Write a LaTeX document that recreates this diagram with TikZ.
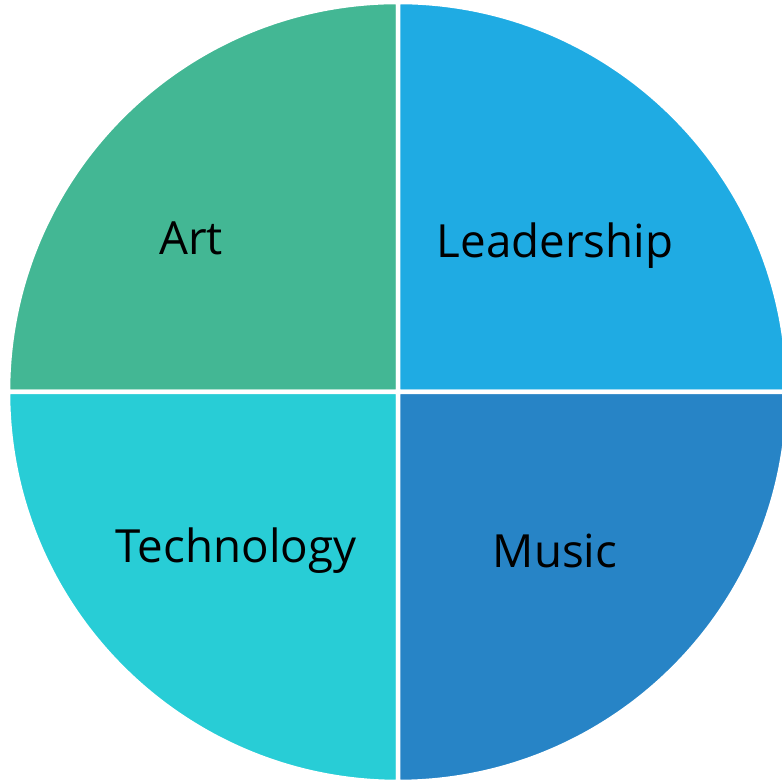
\documentclass[tikz,border=0pt]{standalone}
\usepackage{fontspec}
\setmainfont{Open Sans}
\definecolor{artgreen}{HTML}{43B794}
\definecolor{leadblue}{HTML}{1FABE3}
\definecolor{techcyan}{HTML}{28CDD6}
\definecolor{musicblue}{HTML}{2784C6}
\tikzset{
  quarter/.style={draw=white,line width=0.09cm},
  label/.style={font=\fontsize{26}{30}\selectfont,text=black}
}
\begin{document}
\begin{tikzpicture}
\useasboundingbox (0,0) rectangle (15.64,15.62);
\coordinate (c) at (7.96,7.78);
\fill[white] (0,0) rectangle (15.64,15.62);
\filldraw[quarter,fill=artgreen] (c) -- ++(-7.8,0) arc[start angle=180,end angle=90,radius=7.8] -- cycle;
\filldraw[quarter,fill=leadblue] (c) -- ++(0,7.8) arc[start angle=90,end angle=0,radius=7.8] -- cycle;
\filldraw[quarter,fill=techcyan] (c) -- ++(0,-7.8) arc[start angle=270,end angle=180,radius=7.8] -- cycle;
\filldraw[quarter,fill=musicblue] (c) -- ++(7.8,0) arc[start angle=0,end angle=-90,radius=7.8] -- cycle;
\node[label] (art) at (3.82,10.86) {Art};
\node[label] (leadership) at (11.1,10.7) {Leadership};
\node[label] (technology) at (4.72,4.6) {Technology};
\node[label] (music) at (11.1,4.6) {Music};
\end{tikzpicture}
\end{document}
